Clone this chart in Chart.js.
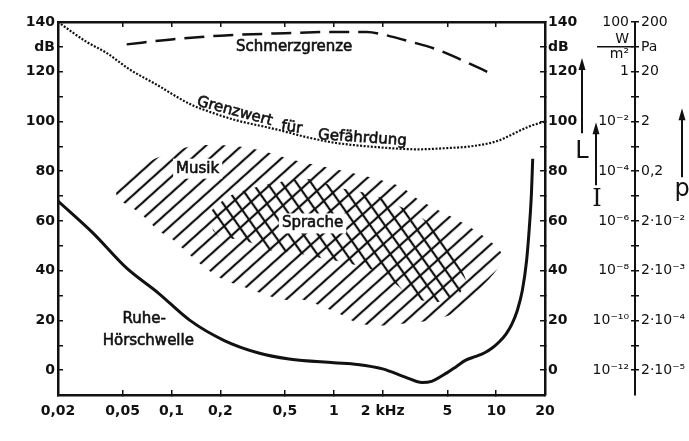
<!DOCTYPE html>
<html><head><meta charset="utf-8">
<script src="https://cdn.jsdelivr.net/npm/chart.js@4.4.1/dist/chart.umd.min.js"></script>
<style>html,body{margin:0;padding:0;background:#fff}</style>
</head><body>
<canvas id="c" width="689" height="441"></canvas>
<script>
// ---- axis ticks ----
const xTickValues = [0.02, 0.05, 0.1, 0.2, 0.5, 1, 2, 5, 10, 20];
const xTickLabels = ['0,02', '0,05', '0,1', '0,2', '0,5', '1', '2 kHz', '5', '10', '20'];
const levelTickValues = [0, 10, 20, 30, 40, 50, 60, 70, 80, 90, 100, 110, 120, 130, 140];
const levelTickLabels = ['0', '', '20', '', '40', '', '60', '', '80', '', '100', '', '120', 'dB', '140'];
const intensityTickLabels = ['10⁻¹²', '', '10⁻¹⁰', '', '10⁻⁸', '', '10⁻⁶', '', '10⁻⁴', '', '10⁻²', '', '1', ['W', 'm²'], '100'];
const pressureTickLabels = ['2·10⁻⁵', '', '2·10⁻⁴', '', '2·10⁻³', '', '2·10⁻²', '', '0,2', '', '2', '', '20', 'Pa', '200'];

// ---- curves (frequency in kHz, level in dB) ----
const schmerzF = [0.053, 0.1, 0.2, 0.5, 1, 1.6, 2, 3, 4.3, 6, 9.5];
const schmerzL = [131, 133, 134.5, 135.5, 136, 136, 135, 132, 129, 125, 119];

const grenzF = [0.02, 0.03, 0.04, 0.055, 0.08, 0.13, 0.17, 0.25, 0.43, 0.7, 1, 2, 3.3, 5, 7, 10, 16, 20];
const grenzL = [140, 132, 127.5, 121, 115, 107, 104, 100.5, 97, 93.5, 91.5, 89.5, 88.8, 89.3, 90, 92, 98, 100];

const hoerF = [0.02, 0.033, 0.053, 0.083, 0.13, 0.21, 0.34, 0.53, 1, 1.4, 2, 2.8, 3.5, 4, 5, 5.7, 6.5, 7.5, 8.5, 9.5, 10.5, 11.5, 12.5, 13.5, 14.5, 15.4, 16, 16.5, 16.8];
const hoerL = [68, 55, 41, 31, 20, 12, 7, 4.5, 3, 2.3, 0.5, -3, -5, -4.5, -1, 1.5, 4, 5.5, 7, 9, 11.5, 14.5, 18.5, 24, 32, 44, 57, 71, 85];

// ---- areas (outline: upper edge left->right, lower edge right->left) ----
const musikF = [0.0445, 0.0534, 0.0726, 0.0933, 0.136, 0.228, 0.351, 0.565, 1.18, 1.87, 2.62, 3.14, 4.27, 6.13, 9.2, 11.0,
                8.7, 5.34, 3.77, 2.73, 2.12, 1.72, 1.36, 1.07, 0.858, 0.658, 0.491, 0.413, 0.292, 0.2, 0.146, 0.1, 0.0833, 0.0647, 0.0548, 0.0464];
const musikL = [74.7, 79.1, 83.9, 86.8, 90.1, 90.3, 88.4, 84.5, 79.9, 76.8, 73.6, 69.6, 64.8, 59.5, 51.8, 45.2,
                35.4, 22.7, 19.9, 18.8, 18, 18, 19.3, 22.9, 25.4, 28.2, 28.3, 29.5, 33, 37.1, 43.4, 52.9, 56.1, 62.9, 66, 68.7];
const spracheF = [0.175, 0.198, 0.244, 0.371, 0.565, 0.756, 1.057, 1.5, 2.07, 2.62, 3.46, 4.52, 5.5, 6.5,
                  6.05, 5.1, 4.27, 3.01, 2.37, 1.87, 1.36, 0.777, 0.533, 0.404, 0.279, 0.2, 0.18];
const spracheL = [64, 67.2, 70.9, 74.4, 76.5, 76.6, 73.4, 71.5, 68.7, 65.5, 61.5, 54.6, 45.2, 36.3,
                  31.4, 28.9, 27.3, 29.3, 35, 39.5, 42.3, 45.5, 47.5, 48.2, 52.2, 53.4, 56.2];

// ---- in-plot texts ----
const noteTexts = ['Schmerzgrenze', 'Musik', 'Sprache', 'Ruhe-', 'Hörschwelle', 'Grenzwert', 'für', 'Gefährdung'];
const noteF = [0.57, 0.145, 0.74, 0.068, 0.072, 0.245, 0.55, 1.5];
const noteL = [130, 81, 59, 20.4, 11.6, 104, 97.5, 93.3];
const noteAngle = [0, 0, 0, 0, 0, 15, 8, 4];
const noteBoxed = [false, true, true, false, false, false, false, false];

const INK = '#111';
const FONT_FAMILY = '"DejaVu Sans", "Liberation Sans", sans-serif';

const ctx = document.getElementById('c').getContext('2d');
const pts = (xs, ys) => xs.map((x, i) => ({x, y: ys[i]}));

function hatch(angle, spacing, lw) {
  const t = document.createElement('canvas');
  t.width = 40; t.height = spacing;
  const g = t.getContext('2d');
  g.fillStyle = INK;
  g.fillRect(0, (spacing - lw) / 2, 40, lw);
  const p = ctx.createPattern(t, 'repeat');
  p.setTransform(new DOMMatrix().rotate(angle));
  return p;
}

const levelTicks = s => { s.ticks = levelTickValues.map(v => ({value: v})); };
const labelFrom = arr => (v) => { const i = levelTickValues.indexOf(v); return i < 0 ? '' : arr[i]; };

const annot = {
  id: 'annot',
  afterDatasetsDraw(chart) {
    const c = chart.ctx;
    const {x, y, yR, yP} = chart.scales;
    c.save();
    c.fillStyle = INK; c.strokeStyle = INK;
    c.textAlign = 'center'; c.textBaseline = 'middle';
    c.font = '15px ' + FONT_FAMILY;
    noteTexts.forEach((t, i) => {
      const px = x.getPixelForValue(noteF[i]);
      const py = y.getPixelForValue(noteL[i]);
      c.save();
      c.translate(px, py);
      c.rotate(noteAngle[i] * Math.PI / 180);
      if (noteBoxed[i]) {
        const w = c.measureText(t).width;
        c.fillStyle = '#fff';
        c.fillRect(-w / 2 - 3, -10, w + 6, 20);
        c.fillStyle = INK;
      }
      c.lineWidth = 0.6;
      c.fillText(t, 0, 0);
      c.strokeText(t, 0, 0);
      c.restore();
    });

    // fraction bar of W/m²
    const yb = y.getPixelForValue(130);
    c.lineWidth = 1.5;
    c.beginPath(); c.moveTo(yP.left - 38, yb); c.lineTo(yP.left - 2, yb); c.stroke();

    // arrows with quantity symbols
    const arrowUp = (px, v0, v1) => {
      const p0 = y.getPixelForValue(v0), p1 = y.getPixelForValue(v1);
      c.lineWidth = 2;
      c.beginPath(); c.moveTo(px, p0); c.lineTo(px, p1 + 8); c.stroke();
      c.beginPath(); c.moveTo(px, p1); c.lineTo(px - 3.5, p1 + 12); c.lineTo(px + 3.5, p1 + 12); c.closePath(); c.fill();
    };
    arrowUp(yR.left + 37, 95.3, 125.5);
    arrowUp(yR.left + 51, 74.4, 99.7);
    arrowUp(yP.right - 7, 77.6, 105.3);
    c.font = '24px ' + FONT_FAMILY;
    c.fillText('L', yR.left + 37, y.getPixelForValue(87.7));
    c.fillText('p', yP.right - 7, y.getPixelForValue(72.4));
    c.font = '24px "DejaVu Serif", serif';
    c.fillText('I', yR.left + 52, y.getPixelForValue(68.4));

    // f axis symbol
    const fy = x.bottom + 35;
    c.font = '22px ' + FONT_FAMILY;
    c.fillText('f', x.getPixelForValue(4.1), fy);
    const a0 = x.getPixelForValue(5), a1 = x.getPixelForValue(11);
    c.lineWidth = 2;
    c.beginPath(); c.moveTo(a0, fy); c.lineTo(a1 - 8, fy); c.stroke();
    c.beginPath(); c.moveTo(a1, fy); c.lineTo(a1 - 13, fy - 3.5); c.lineTo(a1 - 13, fy + 3.5); c.closePath(); c.fill();
    c.restore();
  }
};

const tickFont = {family: FONT_FAMILY, size: 14, weight: 'bold'};
const yBase = {
  type: 'linear', min: -10, max: 140,
  afterBuildTicks: levelTicks,
  border: {display: true, color: INK, width: 2.5},
  grid: {drawOnChartArea: false, color: INK, lineWidth: 1.5, tickLength: -5}
};

new Chart(ctx, {
  type: 'line',
  data: {
    datasets: [
      {label: 'Schmerzgrenze', data: pts(schmerzF, schmerzL), borderColor: INK, borderWidth: 2.5, borderDash: [20, 9],
       pointRadius: 0, fill: false, cubicInterpolationMode: 'monotone', order: 0},
      {label: 'Grenzwert für Gefährdung', data: pts(grenzF, grenzL), borderColor: INK, borderWidth: 2.2, borderDash: [2, 1.6],
       pointRadius: 0, fill: false, cubicInterpolationMode: 'monotone', order: 1},
      {label: 'Ruhe-Hörschwelle', data: pts(hoerF, hoerL), borderColor: INK, borderWidth: 3,
       pointRadius: 0, fill: false, cubicInterpolationMode: 'monotone', order: 2},
      {label: 'Sprache', data: pts(spracheF, spracheL), borderWidth: 0, borderColor: 'rgba(0,0,0,0)',
       backgroundColor: hatch(55, 12, 2.2), pointRadius: 0, fill: 'shape', tension: 0.3, order: 3},
      {label: 'Musik', data: pts(musikF, musikL), borderWidth: 0, borderColor: 'rgba(0,0,0,0)',
       backgroundColor: hatch(-42, 12, 2.2), pointRadius: 0, fill: 'shape', tension: 0.3, order: 4}
    ]
  },
  options: {
    responsive: false, animation: false, devicePixelRatio: 1,
    layout: {padding: {top: 22, left: 0, right: 0, bottom: 0}},
    plugins: {legend: {display: false}, tooltip: {enabled: false}},
    scales: {
      x: {
        type: 'logarithmic', position: 'bottom', min: 0.02, max: 20,
        afterBuildTicks: s => { s.ticks = xTickValues.map(v => ({value: v})); },
        afterFit: s => { s.height = 46; },
        ticks: {callback: (v, i) => xTickLabels[i], color: INK, font: tickFont, padding: 13, autoSkip: false, maxRotation: 0},
        border: {display: true, color: INK, width: 2.5},
        grid: {drawOnChartArea: false, color: INK, lineWidth: 1.5, tickLength: -5}
      },
      xTop: {
        type: 'logarithmic', position: 'top', min: 0.02, max: 20,
        afterBuildTicks: s => { s.ticks = xTickValues.map(v => ({value: v})); },
        afterFit: s => { s.height = 0; },
        ticks: {display: false},
        border: {display: true, color: INK, width: 2.5},
        grid: {drawOnChartArea: false, color: INK, lineWidth: 1.5, tickLength: -5}
      },
      y: Object.assign({}, yBase, {
        position: 'left',
        afterFit: s => { s.width = 58; },
        ticks: {callback: labelFrom(levelTickLabels), color: INK, font: tickFont, padding: 8, autoSkip: false}
      }),
      yR: Object.assign({}, yBase, {
        position: 'right', weight: 0,
        afterFit: s => { s.width = 90; },
        ticks: {callback: labelFrom(levelTickLabels), color: INK, font: tickFont, padding: 8, autoSkip: false}
      }),
      yI: Object.assign({}, yBase, {
        position: 'right', weight: 1,
        afterFit: s => { s.width = 0; },
        border: {display: false},
        grid: {drawOnChartArea: false, color: INK, lineWidth: 1.5, tickLength: -4},
        ticks: {callback: labelFrom(intensityTickLabels), color: INK, font: {family: FONT_FAMILY, size: 14, lineHeight: 1.05},
                mirror: true, padding: -6, autoSkip: false}
      }),
      yP: Object.assign({}, yBase, {
        position: 'right', weight: 2,
        afterFit: s => { s.width = 54; },
        border: {display: true, color: INK, width: 2},
        grid: {drawOnChartArea: false, color: INK, lineWidth: 1.5, tickLength: 4},
        ticks: {callback: labelFrom(pressureTickLabels), color: INK, font: {family: FONT_FAMILY, size: 14}, padding: 2, autoSkip: false}
      })
    }
  },
  plugins: [annot]
});
</script>
</body></html>
